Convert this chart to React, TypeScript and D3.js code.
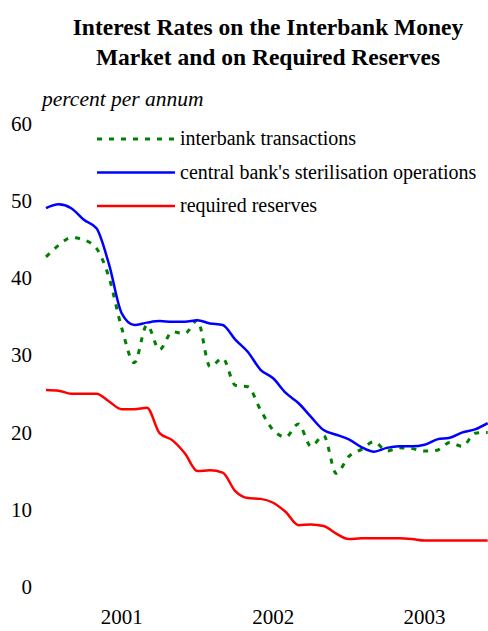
import React from "react";
import * as d3 from "d3";

const months: string[] = [];
for (let y = 2001; y <= 2003; y++) for (let m = 1; m <= 12; m++) months.push(`${y}-${String(m).padStart(2, "0")}`);

const interbank = [42.7, 44.2, 45.2, 44.9, 43.8, 40.0, 33.5, 29.0, 33.9, 30.7, 33.0, 32.8,
  34.5, 28.5, 29.6, 26.1, 25.9, 22.9, 20.3, 19.4, 21.1, 18.2, 19.6, 14.7,
  16.9, 17.8, 18.8, 17.6, 18.0, 17.9, 17.6, 17.7, 18.7, 18.2, 19.9, 20.0];

const sterilisation = [49.0, 49.5, 49.0, 47.5, 46.4, 41.7, 35.4, 33.9, 34.2, 34.4, 34.3, 34.3,
  34.5, 34.1, 33.9, 32.0, 30.4, 28.1, 27.0, 25.1, 23.8, 22.0, 20.3, 19.7,
  19.1, 18.1, 17.5, 18.0, 18.2, 18.2, 18.4, 19.1, 19.3, 20.0, 20.4, 21.2];

const reserves = [25.5, 25.4, 25.0, 25.0, 25.0, 24.0, 23.0, 23.0, 23.2, 19.9, 19.0, 17.3,
  15.0, 15.1, 14.8, 12.4, 11.5, 11.4, 10.9, 9.7, 8.0, 8.1, 7.9, 6.9,
  6.2, 6.3, 6.3, 6.3, 6.3, 6.2, 6.0, 6.0, 6.0, 6.0, 6.0, 6.0];

const yTicks = [0, 10, 20, 30, 40, 50, 60];
const yearLabels = ["2001", "2002", "2003"];

const seriesNames = ["interbank transactions", "central bank's sterilisation operations", "required reserves"];
const seriesColors = ["#008000", "#0000ff", "#ff0000"];

export default function App() {
  const W = 488, H = 631;
  const x = d3.scaleLinear().domain([0, 36]).range([46, 500.3]);
  const y = d3.scaleLinear().domain([0, 60]).range([587, 123.2]);
  const line = d3.line<number>().x((_, i) => x(i)).y((d) => y(d)).curve(d3.curveMonotoneX);
  const series = [interbank, sterilisation, reserves];
  const font = "'Liberation Serif', 'Times New Roman', serif";
  return (
    <svg width={W} height={H} style={{ position: "absolute", left: 0, top: 0, background: "#fff" }} fontFamily={font}>
      <text x={268} y={35} textAnchor="middle" fontWeight="bold" fontSize={23.5}>Interest Rates on the Interbank Money</text>
      <text x={268} y={65} textAnchor="middle" fontWeight="bold" fontSize={23.5}>Market and on Required Reserves</text>
      <text x={42} y={106} fontStyle="italic" fontSize={21.5}>percent per annum</text>
      {yTicks.map((t) => (
        <text key={t} x={32} y={y(t)} dy="0.35em" textAnchor="end" fontSize={21}>{t}</text>
      ))}
      {yearLabels.map((l, i) => (
        <text key={l} x={x(6 + 12 * i)} y={624} textAnchor="middle" fontSize={21}>{l}</text>
      ))}
      {series.map((s, i) => (
        <path key={i} d={line(s) || ""} fill="none" stroke={seriesColors[i]}
          strokeWidth={i === 0 ? 3 : 2.5} strokeDasharray={i === 0 ? "5,7" : undefined} />
      ))}
      {seriesNames.map((n, i) => {
        const ly = 139 + i * 33.5;
        return (
          <g key={n}>
            <line x1={97} x2={175} y1={ly} y2={ly} stroke={seriesColors[i]}
              strokeWidth={i === 0 ? 3 : 2.5} strokeDasharray={i === 0 ? "5,7" : undefined} />
            <text x={180} y={ly + 6} fontSize={20}>{n}</text>
          </g>
        );
      })}
    </svg>
  );
}
